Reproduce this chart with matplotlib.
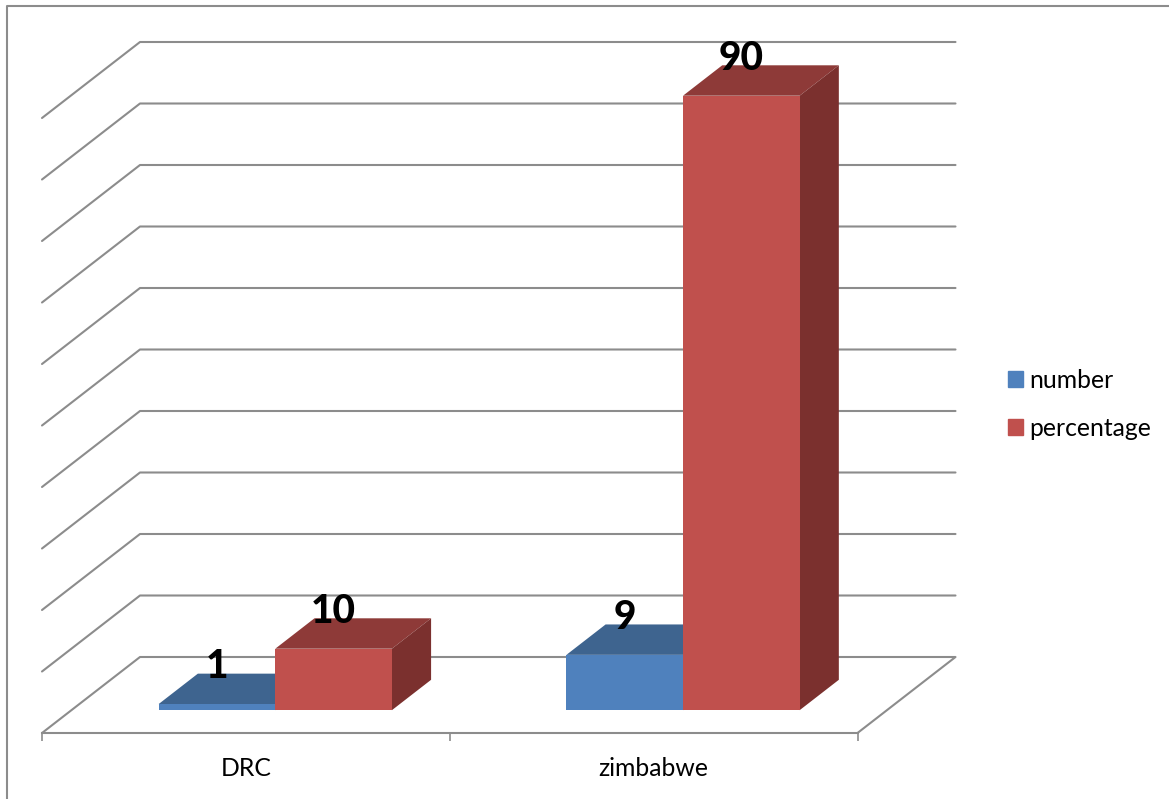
import matplotlib
matplotlib.use("Agg")
import matplotlib.pyplot as plt
import numpy as np
from matplotlib.lines import Line2D
from matplotlib.patches import Patch, Polygon
from matplotlib.transforms import Affine2D, IdentityTransform

categories = ["DRC", "zimbabwe"]
number = [1, 9]
percentage = [10, 90]

# value -> height on the value axis; the top stretch is not linear
scale_values = [0, 10, 90, 100]
scale_heights = [0, 61.5, 614.5, 615]

GRID = "#8c8c8c"
FLOOR_DEPTH = np.array([98.0, 76.0])  # oblique offset of the back wall, px
BAR_FRONT = 0.3
BAR_BACK = 0.7
BAR_WIDTH = 0.286

plt.rcParams["font.family"] = ["Lato", "DejaVu Sans"]

W, H = 1169, 799
fig = plt.figure(figsize=(W / 100, H / 100), dpi=100)
ax = fig.add_axes([42 / W, (H - 733) / H, 815.5 / W, 615 / H])
ax.set_yscale(
    "function",
    functions=(
        lambda v: np.interp(v, scale_values, scale_heights),
        lambda h: np.interp(h, scale_heights, scale_values),
    ),
)
ax.set_xlim(-0.5, 1.5)
ax.set_ylim(0, 100)
ax.patch.set_visible(False)
for name in ["top", "left", "right"]:
    ax.spines[name].set_visible(False)
ax.spines["bottom"].set_color(GRID)
ax.spines["bottom"].set_linewidth(1.5)
ax.set_yticks([])
ax.minorticks_off()

# tick marks between categories, names centred under each group
ax.set_xticks([-0.5, 0.5, 1.5], labels=["", "", ""])
ax.set_xticks([0, 1], labels=categories, minor=True)
ax.tick_params(axis="x", which="major", length=6, width=1.2, color=GRID)
ax.tick_params(axis="x", which="minor", length=0, pad=17, labelsize=17.8)


def draw_walls():
    # floor outline plus one wall line per grid level
    for frac in np.linspace(0, 1, 11):
        front = ax.transAxes.transform((0, frac))
        right = ax.transAxes.transform((1, frac))
        pts = [front, front + FLOOR_DEPTH, right + FLOOR_DEPTH]
        if frac == 0:
            pts.append(right)
        ax.plot(*zip(*pts), color=GRID, lw=1.5, transform=IdentityTransform(),
                clip_on=False, solid_capstyle="round", zorder=1)


def draw_bars(offset, values, front, top, side):
    shift = Affine2D().translate(*(FLOOR_DEPTH * BAR_FRONT))
    step = FLOOR_DEPTH * (BAR_BACK - BAR_FRONT)
    x_pos = np.arange(len(values)) + offset
    for x, v in zip(x_pos, values):
        xl, xr = x - BAR_WIDTH / 2, x + BAR_WIDTH / 2
        tl = ax.transData.transform((xl, v)) + shift.get_matrix()[:2, 2]
        tr = ax.transData.transform((xr, v)) + shift.get_matrix()[:2, 2]
        br = ax.transData.transform((xr, 0)) + shift.get_matrix()[:2, 2]
        ax.add_patch(Polygon([tl, tr, tr + step, tl + step], facecolor=top,
                             edgecolor="none", transform=IdentityTransform(),
                             clip_on=False, zorder=2))
        ax.add_patch(Polygon([tr, br, br + step, tr + step], facecolor=side,
                             edgecolor="none", transform=IdentityTransform(),
                             clip_on=False, zorder=2))
    ax.bar(x_pos, values, BAR_WIDTH, color=front, clip_on=False, zorder=3,
           transform=ax.transData + shift)
    for x, v in zip(x_pos, values):
        ax.annotate(str(v), xy=(x, v), xycoords=ax.transData + shift,
                    xytext=(0, 27), textcoords="offset points",
                    ha="center", va="center", fontsize=28, fontweight="black",
                    color="black", annotation_clip=False, zorder=5)


draw_walls()
draw_bars(-BAR_WIDTH / 2, number, "#4f81bd", "#3e648f", "#345678")
draw_bars(BAR_WIDTH / 2, percentage, "#c0504d", "#8e3a38", "#7b302e")

ax.set_xlim(-0.5, 1.5)
ax.set_ylim(0, 100)

handles = [Patch(color="#4f81bd", label="number"),
           Patch(color="#c0504d", label="percentage")]
fig.legend(handles=handles, loc="center left",
           bbox_to_anchor=(1008 / W, (H - 404.5) / H), frameon=False, fontsize=17.8,
           handlelength=0.61, handleheight=0.61, handletextpad=0.25,
           labelspacing=1.02, borderpad=0, borderaxespad=0)

# thin frame along the left and top of the chart area
fig.add_artist(Line2D([6.5 / W, 6.5 / W, 1], [0, (H - 5.5) / H, (H - 5.5) / H],
                      color=GRID, lw=1.5))

fig.savefig("out.png", dpi=100)
